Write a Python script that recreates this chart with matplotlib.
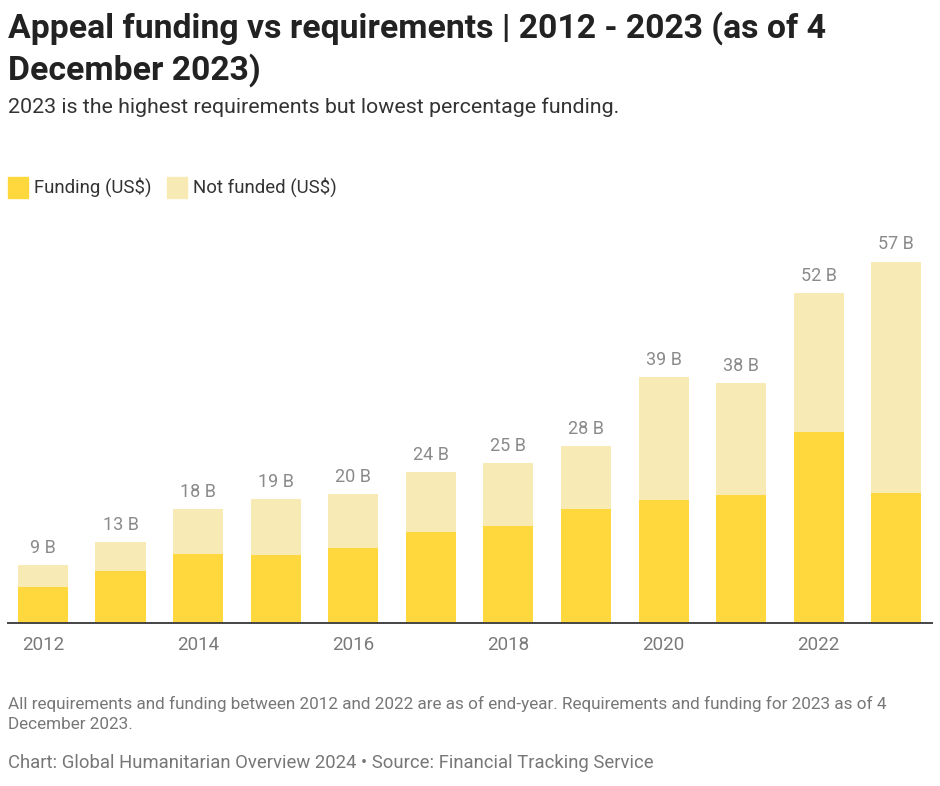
import matplotlib.pyplot as plt
from matplotlib.patches import Rectangle

plt.rcParams['font.family'] = ['Roboto', 'DejaVu Sans']

years = [2012, 2013, 2014, 2015, 2016, 2017, 2018, 2019, 2020, 2021, 2022, 2023]
funding = [5.6, 8.2, 10.8, 10.7, 11.8, 14.3, 15.2, 17.9, 19.3, 20.1, 29.9, 20.4]
not_funded = [3.5, 4.5, 7.1, 8.7, 8.4, 9.4, 9.9, 9.8, 19.3, 17.5, 21.8, 36.3]
tick_years = [2012, 2014, 2016, 2018, 2020, 2022]

c_fund = '#FFD83D'
c_not = '#F8EAB5'

fig = plt.figure(figsize=(9.4, 7.86), dpi=100)
ax = fig.add_axes([8 / 940, 1 - 623 / 786, 924 / 940, 408 / 786])

ax.bar(years, funding, 0.645, color=c_fund, label='Funding (US$)')
ax.bar(years, not_funded, 0.645, bottom=funding, color=c_not, label='Not funded (US$)')

for y, f, n in zip(years, funding, not_funded):
    total = f + n
    ax.annotate('%d B' % round(total), (y, total), xytext=(0, 6), textcoords='offset points',
                ha='center', va='bottom', fontsize=13, color='#8a8a8a')

ax.set_xlim(2011.55, 2023.46)
ax.set_ylim(0, 64)
ax.set_xticks(tick_years)
ax.set_xticklabels([str(t) for t in tick_years], fontsize=13.5, color='#7a7a7a')
ax.tick_params(axis='x', length=0, pad=9.5)
ax.set_yticks([])
for s in ['top', 'right', 'left']:
    ax.spines[s].set_visible(False)
ax.spines['bottom'].set_color('#444444')
ax.spines['bottom'].set_linewidth(1.4)

# title and subtitle
fig.text(8 / 940, 1 - 11 / 786, 'Appeal funding vs requirements | 2012 - 2023 (as of 4\nDecember 2023)',
         ha='left', va='top', fontsize=24.3, fontweight='bold', color='#222222', linespacing=1.33)
fig.text(8 / 940, 1 - 107 / 786, '2023 is the highest requirements but lowest percentage funding.',
         ha='left', va='center', fontsize=15.4, color='#333333')

# legend
fig.patches.append(Rectangle((8 / 940, 1 - 198 / 786), 20 / 940, 21 / 786,
                             transform=fig.transFigure, color=c_fund))
fig.text(34 / 940, 1 - 187 / 786, 'Funding (US$)', ha='left', va='center', fontsize=13.4, color='#333333')
fig.patches.append(Rectangle((167 / 940, 1 - 198 / 786), 20 / 940, 21 / 786,
                             transform=fig.transFigure, color=c_not))
fig.text(193 / 940, 1 - 187 / 786, 'Not funded (US$)', ha='left', va='center', fontsize=13.4, color='#333333')

# notes
fig.text(8 / 940, 1 - 696 / 786,
         'All requirements and funding between 2012 and 2022 are as of end-year. Requirements and funding for 2023 as of 4\nDecember 2023.',
         ha='left', va='top', fontsize=12.3, color='#777777', linespacing=1.4)
fig.text(8 / 940, 1 - 763 / 786, 'Chart: Global Humanitarian Overview 2024 \u2022 Source: Financial Tracking Service',
         ha='left', va='center', fontsize=13.3, color='#777777')

fig.savefig('out.png', dpi=100)
